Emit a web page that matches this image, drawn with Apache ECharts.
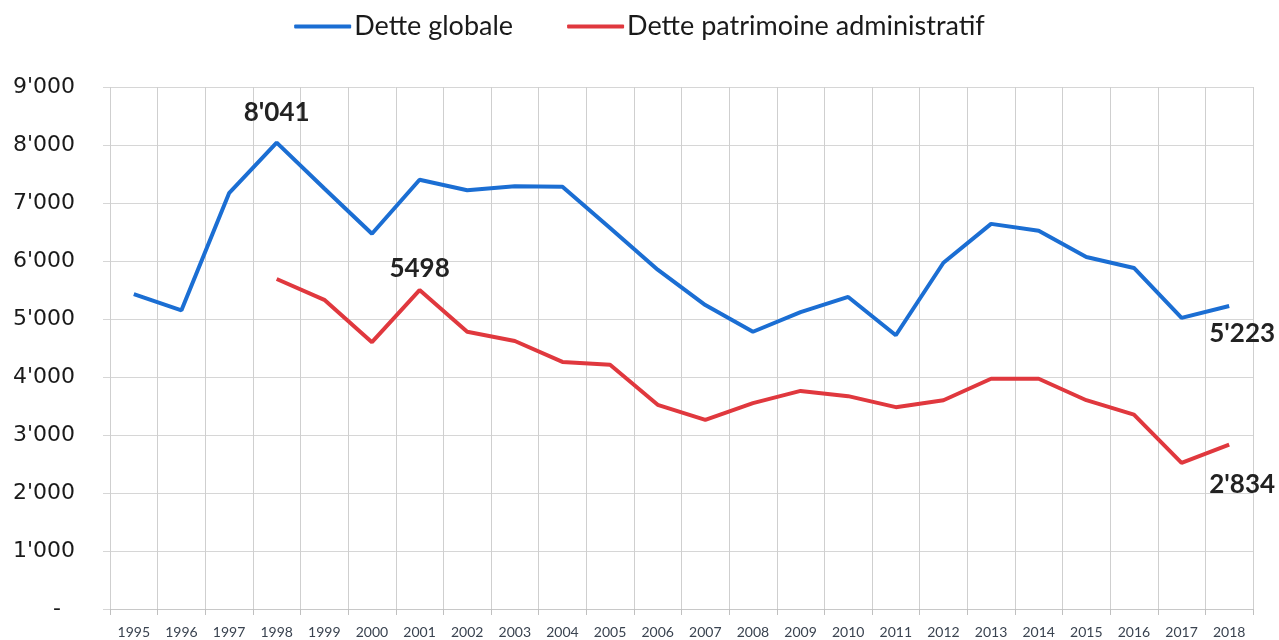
<!DOCTYPE html>
<html>
<head>
<meta charset="utf-8">
<title>Dette</title>
<script src="https://cdn.jsdelivr.net/npm/echarts@6/dist/echarts.min.js"></script>
<style>
  html, body { margin: 0; padding: 0; background: #fff; }
  #chart { width: 1279px; height: 640px; }
</style>
</head>
<body>
<div id="chart"></div>
<script>
  const years = ['1995', '1996', '1997', '1998', '1999', '2000', '2001', '2002', '2003', '2004', '2005', '2006',
    '2007', '2008', '2009', '2010', '2011', '2012', '2013', '2014', '2015', '2016', '2017', '2018']
  const detteGlobale = [5430, 5150, 7170, 8041, 7250, 6470, 7400, 7220, 7290, 7280, 6570, 5850,
    5240, 4780, 5120, 5380, 4720, 5970, 6640, 6520, 6070, 5880, 5020, 5223]
  const detteAdmin = [null, null, null, 5690, 5330, 4600, 5498, 4780, 4620, 4260, 4210, 3520,
    3260, 3550, 3760, 3670, 3480, 3600, 3970, 3970, 3600, 3350, 2520, 2834]
  const yTicks = [0, 1000, 2000, 3000, 4000, 5000, 6000, 7000, 8000, 9000]
  // annotated points: index -> label text
  const globaleNotes = { 3: "8'041", 23: "5'223" }
  const adminNotes = { 6: '5498', 23: "2'834" }

  const fmt = v => v === 0 ? '-  ' : String(v).replace(/\B(?=(\d{3})+(?!\d))/g, "'")

  const labelFont = { fontFamily: 'Lato', fontWeight: 'bold', fontSize: 26, color: '#222' }

  function withNotes (values, notes, placement) {
    return values.map((v, i) => {
      if (!(i in notes)) return v === null ? '-' : v
      return {
        value: v,
        label: Object.assign({ show: true, formatter: notes[i] }, labelFont, placement[i])
      }
    })
  }

  const chart = echarts.init(document.getElementById('chart'))
  chart.setOption({
    animation: false,
    legend: {
      top: 8,
      left: 'center',
      itemWidth: 57,
      itemHeight: 4,
      itemGap: 54,
      icon: 'roundRect',
      textStyle: { fontFamily: 'Lato', fontSize: 27, color: '#1a1a1a', padding: [0, 0, 0, -2] },
      data: ['Dette globale', 'Dette patrimoine administratif']
    },
    grid: { left: 110, right: 26, top: 87, bottom: 31 },
    xAxis: {
      type: 'category',
      boundaryGap: true,
      data: years,
      axisLine: { lineStyle: { color: '#c8c8c8' } },
      axisTick: { show: true, length: 6, lineStyle: { color: '#c0c0c0' } },
      axisLabel: { fontFamily: 'Lato', fontSize: 14, color: '#3a4350', margin: 16 },
      splitLine: { show: true, lineStyle: { color: '#cfcfcf' } }
    },
    yAxis: {
      type: 'value',
      min: yTicks[0],
      max: yTicks[yTicks.length - 1],
      interval: 1000,
      axisLine: { show: false },
      axisTick: { show: true, length: 7, lineStyle: { color: '#d6d6d6' } },
      axisLabel: { fontFamily: 'DejaVu Sans', fontSize: 22, color: '#1a1a1a', margin: 35, formatter: fmt },
      splitLine: { lineStyle: { color: '#d6d6d6' } }
    },
    series: [
      {
        name: 'Dette globale',
        type: 'line',
        symbol: 'circle',
        symbolSize: 0,
        lineStyle: { width: 4, color: '#1b6ed3' },
        itemStyle: { color: '#1b6ed3' },
        data: withNotes(detteGlobale, globaleNotes, {
          3: { position: 'top', distance: 17 },
          23: { position: 'bottom', distance: 15, offset: [13, 0] }
        })
      },
      {
        name: 'Dette patrimoine administratif',
        type: 'line',
        symbol: 'circle',
        symbolSize: 0,
        lineStyle: { width: 4, color: '#e0383e' },
        itemStyle: { color: '#e0383e' },
        data: withNotes(detteAdmin, adminNotes, {
          6: { position: 'top', distance: 9 },
          23: { position: 'bottom', distance: 27, offset: [13, 0] }
        })
      }
    ]
  })
</script>
</body>
</html>
